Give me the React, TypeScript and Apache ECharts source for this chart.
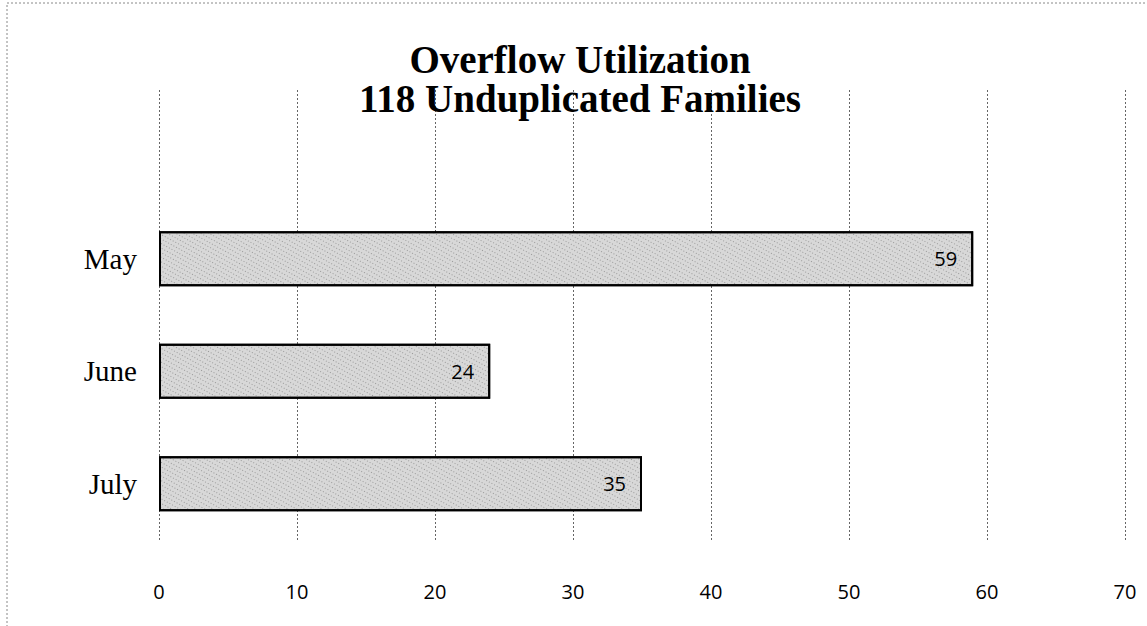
import React, { useEffect, useRef } from "react";
import * as echarts from "echarts";

const categories = ["July", "June", "May", ""];
const values: (number | null)[] = [35, 24, 59, null];
const xTicks = { min: 0, max: 70, interval: 10 };
const titleLines = ["Overflow Utilization", "118 Unduplicated Families"];

export default function App() {
  const ref = useRef<HTMLDivElement>(null);
  useEffect(() => {
    if (!ref.current) return;
    const chart = echarts.init(ref.current, null, { renderer: "svg" });
    chart.setOption({
      animation: false,
      backgroundColor: "#ffffff",
      aria: { enabled: true, decal: { show: true } },
      title: {
        text: titleLines.join("\n"),
        left: 575,
        textAlign: "center",
        top: 35,
        textStyle: {
          fontFamily: "Liberation Serif, Times New Roman, serif",
          fontWeight: "bold",
          fontSize: 39,
          lineHeight: 39,
          color: "#000",
        },
      },
      grid: { left: 159, right: 22, top: 90, bottom: 86, containLabel: false },
      xAxis: {
        type: "value",
        min: xTicks.min,
        max: xTicks.max,
        interval: xTicks.interval,
        axisLine: { show: false },
        axisTick: { show: false },
        axisLabel: {
          margin: 41,
          fontFamily: "Open Sans, Liberation Sans, sans-serif",
          fontSize: 20,
          color: "#000",
        },
        splitLine: {
          show: true,
          lineStyle: { color: "#666", width: 1, type: [2, 2] },
        },
      },
      yAxis: {
        type: "category",
        data: categories,
        axisLine: { show: false },
        axisTick: { show: false },
        axisLabel: {
          margin: 22,
          fontFamily: "Liberation Serif, Times New Roman, serif",
          fontSize: 29,
          color: "#000",
        },
      },
      series: [
        {
          type: "bar",
          data: values,
          barWidth: 55,
          itemStyle: {
            color: "#d8d8d8",
            borderColor: "#000",
            borderWidth: 2,
            decal: {
              symbol: "rect",
              symbolSize: 1,
              color: "rgba(60,60,60,0.4)",
              dashArrayX: [1, 2],
              dashArrayY: [1, 3],
              rotation: 0.5,
            },
          },
          label: {
            show: true,
            position: "insideRight",
            distance: 16,
            fontFamily: "Open Sans, Liberation Sans, sans-serif",
            fontSize: 20,
            color: "#000",
          },
        },
      ],
      graphic: [
        {
          type: "rect",
          shape: { x: 7, y: 3, width: 1160, height: 640 },
          style: { fill: "none", stroke: "#888", lineWidth: 1, lineDash: [2, 2] },
          silent: true,
        },
      ],
    });
    return () => chart.dispose();
  }, []);
  return (
    <div
      ref={ref}
      style={{ position: "absolute", left: 0, top: 0, width: 1147, height: 626 }}
    />
  );
}
